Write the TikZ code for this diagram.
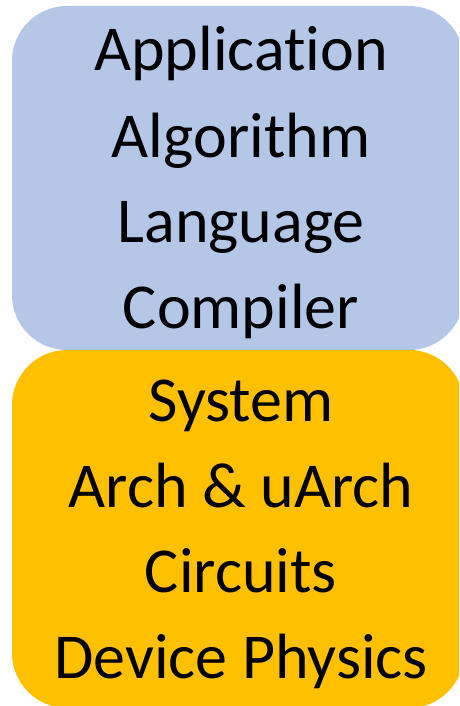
\documentclass[tikz,border=0pt]{standalone}
\usepackage{fontspec}
\setmainfont[RawFeature={-liga}]{Carlito}
\definecolor{softblue}{HTML}{B4C7E7}
\definecolor{amber}{HTML}{FFC000}
\begin{document}
\begin{tikzpicture}[x=1pt,y=-1pt,
  layer/.style={rounded corners=55pt},
  lbl/.style={font=\fontsize{64}{64}\selectfont, anchor=base, inner sep=0pt}]
\useasboundingbox (0,0) rectangle (459,706);
\begin{scope}
\clip (0,0) rectangle (459,706);
% software stack
\fill[softblue, layer] (12,6) rectangle (464,350);
% hardware stack
\fill[amber, layer] (12,350) rectangle (464,708);
\end{scope}
\node[lbl] (app)  at (241,71)  {Application};
\node[lbl] (alg)  at (241,157) {Algorithm};
\node[lbl] (lang) at (241,242) {Language};
\node[lbl] (comp) at (241,328) {Compiler};
\node[lbl] (sys)  at (241,421) {System};
\node[lbl] (arch) at (241,507) {Arch \& uArch};
\node[lbl] (circ) at (241,592) {Circuits};
\node[lbl] (dev)  at (241,678) {Device Physics};
\end{tikzpicture}
\end{document}
